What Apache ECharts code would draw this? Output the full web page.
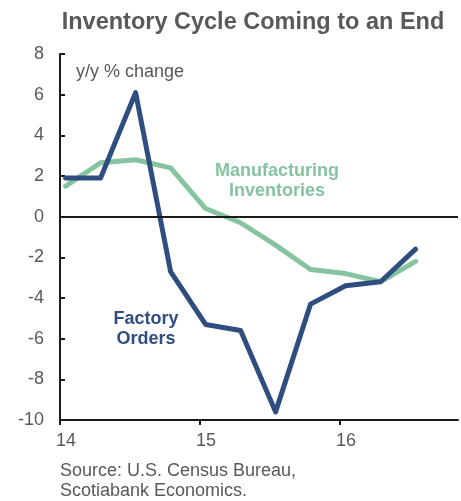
<!DOCTYPE html>
<html>
<head>
<meta charset="utf-8">
<script src="https://cdn.jsdelivr.net/npm/echarts@6/dist/echarts.min.js"></script>
<style>
  html, body { margin: 0; padding: 0; background: #fff; }
  #chart { width: 461px; height: 501px; }
</style>
</head>
<body>
<div id="chart"></div>
<script>
// Quarterly observations, x in fractional years (14 = 2014)
const periods = [14.04, 14.29, 14.54, 14.79, 15.04, 15.29, 15.54, 15.79, 16.04, 16.29, 16.54];
const factoryOrders = [1.9, 1.9, 6.1, -2.7, -5.3, -5.6, -9.6, -4.3, -3.4, -3.2, -1.6];
const mfgInventories = [1.5, 2.65, 2.8, 2.4, 0.4, -0.3, -1.4, -2.6, -2.8, -3.2, -2.2];
const xTicks = [14, 15, 16];
const yTicks = [-10, -8, -6, -4, -2, 0, 2, 4, 6, 8];

const NAVY = '#2f4d7e';
const GREEN = '#86c3a1';
const GREY = '#595959';
const FONT = '"Liberation Sans", Arial, sans-serif';

const pair = (xs, ys) => xs.map((x, i) => [x, ys[i]]);

const chart = echarts.init(document.getElementById('chart'), null, { renderer: 'canvas' });
chart.setOption({
  animation: false,
  textStyle: { fontFamily: FONT },
  grid: { left: 60, right: 3, top: 54, bottom: 81 },
  xAxis: {
    type: 'value',
    min: 14, max: 16.843, interval: 1,
    axisLine: { onZero: false, lineStyle: { color: '#1a1a1a', width: 2 } },
    axisTick: { show: true, inside: false, length: 5, lineStyle: { color: '#1a1a1a', width: 2 },
      customValues: xTicks },
    splitLine: { show: false },
    axisLabel: {
      customValues: xTicks,
      formatter: v => String(v),
      fontFamily: FONT, fontSize: 18, color: GREY, margin: 12,
      padding: [0, 0, 0, 12]
    }
  },
  yAxis: {
    type: 'value',
    min: -10, max: 8, interval: 2,
    axisLine: { show: true, lineStyle: { color: '#1a1a1a', width: 2 } },
    axisTick: { show: true, inside: true, length: 5, lineStyle: { color: '#1a1a1a', width: 2 },
      customValues: yTicks },
    splitLine: { show: false },
    axisLabel: {
      customValues: yTicks,
      fontFamily: FONT, fontSize: 18, color: GREY, margin: 16
    }
  },
  graphic: [
    { type: 'text',
      style: { x: 253, y: 23, text: 'Inventory Cycle Coming to an End', font: 'bold 23.5px ' + FONT,
        fill: GREY, align: 'center', verticalAlign: 'middle' } },
    { type: 'text',
      style: { x: 76, y: 72, text: 'y/y % change', font: '18px ' + FONT, fill: GREY,
        verticalAlign: 'middle' } },
    { type: 'text',
      style: { x: 277, y: 181, text: 'Manufacturing\nInventories', font: 'bold 18px ' + FONT, fill: GREEN,
        align: 'center', verticalAlign: 'middle', lineHeight: 20 } },
    { type: 'text',
      style: { x: 146, y: 329, text: 'Factory\nOrders', font: 'bold 18px ' + FONT, fill: NAVY,
        align: 'center', verticalAlign: 'middle', lineHeight: 20 } },
    { type: 'text',
      style: { x: 60, y: 481, text: 'Source: U.S. Census Bureau,\nScotiabank Economics.', font: '18px ' + FONT,
        fill: GREY, verticalAlign: 'middle', lineHeight: 20 } }
  ],
  series: [
    {
      name: 'Manufacturing Inventories',
      type: 'line',
      data: pair(periods, mfgInventories),
      showSymbol: false,
      lineStyle: { color: GREEN, width: 5, join: 'round', cap: 'round' },
      z: 2
    },
    {
      name: 'Factory Orders',
      type: 'line',
      data: pair(periods, factoryOrders),
      showSymbol: false,
      lineStyle: { color: NAVY, width: 5, join: 'round', cap: 'round' },
      z: 3,
      markLine: {
        silent: true,
        symbol: ['none', 'none'],
        label: { show: false },
        lineStyle: { color: '#1a1a1a', width: 2, type: 'solid' },
        data: [{ yAxis: 0 }]
      }
    }
  ]
});
</script>
</body>
</html>
